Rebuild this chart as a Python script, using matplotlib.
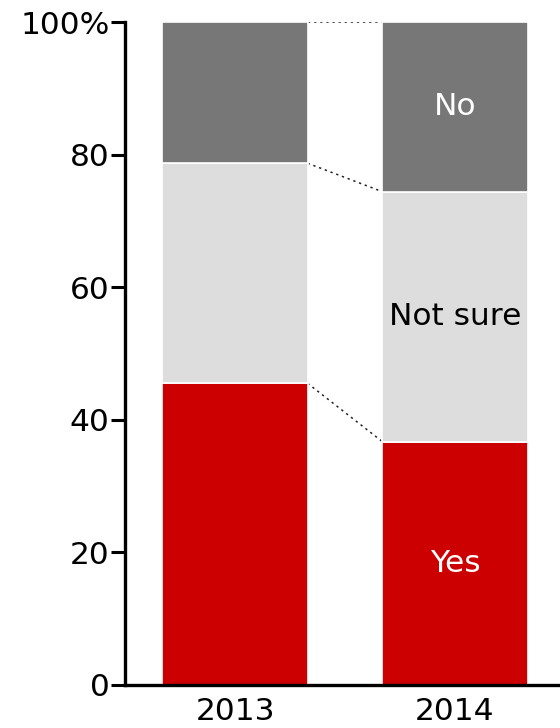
import matplotlib
matplotlib.use("Agg")
import matplotlib.pyplot as plt
import numpy as np

years = ["2013", "2014"]
categories = ["Yes", "Not sure", "No"]
yes = [45.5, 36.7]
not_sure = [33.2, 37.7]
no = [21.3, 25.6]
colors = ["#CC0000", "#DDDDDD", "#777777"]
label_colors = ["white", "black", "white"]
yticks = [0, 20, 40, 60, 80, 100]
ytick_labels = ["0", "20", "40", "60", "80", "100%"]

plt.rcParams["font.family"] = ["DejaVu Sans"]

fig = plt.figure(figsize=(5.6, 7.28), dpi=100)
ax = fig.add_axes([125 / 560, 1 - 685 / 728, 435 / 560, 663 / 728])

x = np.arange(len(years))
width = 0.66
series = [yes, not_sure, no]
bottoms = np.zeros(len(years))
tops = []
for vals, col in zip(series, colors):
    vals = np.array(vals)
    ax.bar(x, vals, width, bottom=bottoms, color=col, edgecolor="white", linewidth=1.2, zorder=2)
    bottoms = bottoms + vals
    tops.append(bottoms.copy())

# connector lines between segment boundaries of adjacent bars
for t in tops:
    ax.plot([x[0] + width / 2, x[1] - width / 2], [t[0], t[1]],
            linestyle=(0, (1.5, 2.5)), color="#222222", linewidth=1.1, zorder=1)

# category labels on the last bar
starts = np.zeros(len(years))
for vals, name, lc in zip(series, categories, label_colors):
    mid = starts[-1] + vals[-1] / 2
    ax.text(x[-1], mid, name, ha="center", va="center", color=lc, fontsize=22.5)
    starts = starts + np.array(vals)

ax.set_xlim(-0.5, 1.477)
ax.set_ylim(0, 100)
ax.set_yticks(yticks)
ax.set_yticklabels(ytick_labels, fontsize=22.5)
ax.set_xticks(x)
ax.set_xticklabels(years, fontsize=22.5)
ax.tick_params(axis="y", length=10, width=2.2, pad=1)
ax.tick_params(axis="x", length=0, pad=9)
for s in ["top", "right"]:
    ax.spines[s].set_visible(False)
for s in ["left", "bottom"]:
    ax.spines[s].set_linewidth(2.4)

fig.savefig("out.png", dpi=100)
